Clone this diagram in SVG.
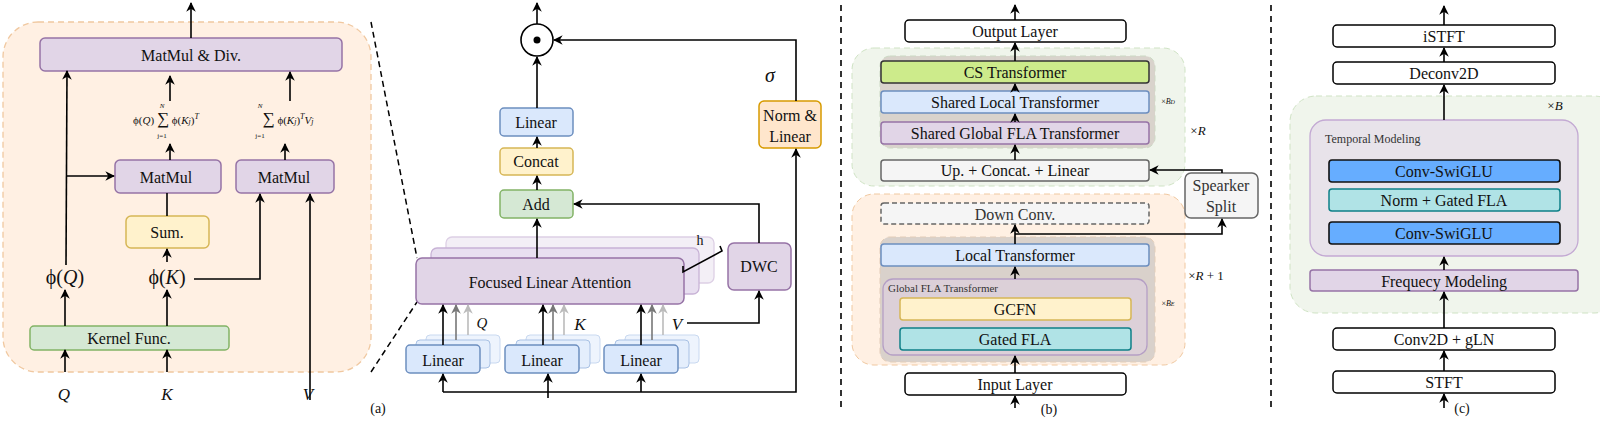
<svg xmlns="http://www.w3.org/2000/svg" width="1600" height="421" viewBox="0 0 1600 421">
<style>
text{font-family:"Liberation Serif","DejaVu Serif",serif;fill:#111;text-anchor:middle}
.t{font-size:16px}.s{font-size:13px}.m{font-style:italic}
.ln{stroke:#000;stroke-width:1.6;fill:none}
.pu{fill:#e1d5e7;stroke:#9673a6;stroke-width:1.5}
.bl{fill:#dae8fc;stroke:#6c8ebf;stroke-width:1.5}
.ye{fill:#fff2cc;stroke:#d6b656;stroke-width:1.5}
.gr{fill:#d5e8d4;stroke:#82b366;stroke-width:1.5}
.wh{fill:#fff;stroke:#000;stroke-width:1.5}
</style>
<defs><marker id="a" viewBox="0 0 10 10" refX="9" refY="5" markerWidth="6" markerHeight="6" orient="auto"><path d="M0,0L10,5L0,10L3,5z" fill="#000"/></marker>
<marker id="g1" viewBox="0 0 10 10" refX="9" refY="5" markerWidth="6" markerHeight="6" orient="auto"><path d="M0,0L10,5L0,10L3,5z" fill="#777"/></marker>
<marker id="g2" viewBox="0 0 10 10" refX="9" refY="5" markerWidth="6" markerHeight="6" orient="auto"><path d="M0,0L10,5L0,10L3,5z" fill="#bbb"/></marker></defs>

<!-- panel a -->
<rect x="3" y="22" width="368" height="350" rx="35" fill="#fff0e3" stroke="#f0c8a0" stroke-dasharray="6,4" stroke-width="1.3"/>
<g id="matdiv"><rect class="pu" x="40" y="38" width="302" height="33" rx="5"/><text class="t" x="191" y="61">MatMul &amp; Div.</text></g>
<g id="mm1"><rect class="pu" x="115" y="160" width="106" height="33" rx="5"/><text class="t" x="166" y="183">MatMul</text></g>
<g id="mm2"><rect class="pu" x="236" y="160" width="98" height="33" rx="5"/><text class="t" x="284" y="183">MatMul</text></g>
<g id="sum"><rect class="ye" x="126" y="216" width="83" height="32" rx="5"/><text class="t" x="167" y="238">Sum.</text></g>
<g id="kern"><rect class="gr" x="30" y="326" width="199" height="24" rx="4"/><text class="t" x="129" y="344">Kernel Func.</text></g>
<text x="65" y="284" style="font-size:20px">ϕ(<tspan font-style="italic">Q</tspan>)</text>
<text x="167" y="284" style="font-size:20px">ϕ(<tspan font-style="italic">K</tspan>)</text>
<text class="m" x="64" y="400" style="font-size:17px">Q</text>
<text class="m" x="167" y="400" style="font-size:17px">K</text>
<text class="m" x="308" y="400" style="font-size:17px">V</text>
<text x="166" y="124" style="font-size:11px">ϕ(<tspan font-style="italic">Q</tspan>) <tspan font-size="17">∑</tspan> ϕ(<tspan font-style="italic">K<tspan font-size="8">j</tspan></tspan>)<tspan font-size="8" dy="-5" font-style="italic">T</tspan></text>
<text x="162" y="108" style="font-size:7px" class="m">N</text><text x="162" y="138" style="font-size:7px">j=1</text>
<text x="288" y="124" style="font-size:11px"><tspan font-size="17">∑</tspan> ϕ(<tspan font-style="italic">K<tspan font-size="8">j</tspan></tspan>)<tspan font-size="8" dy="-5" font-style="italic">T</tspan><tspan dy="5" font-style="italic">V<tspan font-size="8">j</tspan></tspan></text>
<text x="260" y="108" style="font-size:7px" class="m">N</text><text x="260" y="138" style="font-size:7px">j=1</text>
<text x="378" y="413" style="font-size:14px">(a)</text>
<path d="M371,22L417,258M371,372L417,302" stroke="#000" stroke-width="1.5" stroke-dasharray="6,4" fill="none"/>

<!-- middle -->
<g id="fla"><rect x="446" y="237" width="268" height="46" rx="6" fill="#f3eff6" stroke="#ddd0e5" stroke-width="1.3"/><rect x="431" y="248" width="268" height="46" rx="6" fill="#e8dff0" stroke="#c8b3d6" stroke-width="1.3"/><rect class="pu" x="416" y="258" width="268" height="46" rx="6"/><text class="t" x="550" y="288">Focused Linear Attention</text></g>
<text x="700" y="245" style="font-size:14px">h</text>
<path d="M683,266L683,272L722,251L720,246" class="ln" stroke-width="1.2"/>
<g id="circ"><circle cx="537" cy="40" r="16" fill="#fff" stroke="#000" stroke-width="1.6"/><circle cx="537" cy="40" r="3.5" fill="#000"/></g>
<g id="lin"><rect class="bl" x="500" y="108" width="73" height="28" rx="4"/><text class="t" x="536" y="128">Linear</text></g>
<g id="concat"><rect class="ye" x="500" y="148" width="73" height="27" rx="4"/><text class="t" x="536" y="167">Concat</text></g>
<g id="add"><rect class="gr" x="500" y="190" width="73" height="28" rx="4"/><text class="t" x="536" y="210">Add</text></g>
<g id="dwc"><rect class="pu" x="728" y="243" width="63" height="47" rx="6"/><text class="t" x="759" y="272">DWC</text></g>
<g id="norm"><rect x="759" y="101" width="62" height="47" rx="5" fill="#ffe6cc" stroke="#d79b00" stroke-width="1.5"/><text class="t" x="790" y="121">Norm &amp;</text><text class="t" x="790" y="142">Linear</text></g>
<text class="m" x="770" y="82" style="font-size:20px">σ</text>
<g id="lq"><rect x="426" y="335" width="74" height="28" rx="4" fill="#eef4fd" stroke="#c9d9f0"/><rect x="416" y="340" width="74" height="28" rx="4" fill="#e4eefc" stroke="#a9c1e4"/><rect class="bl" x="406" y="345" width="74" height="28" rx="4"/><text class="t" x="443" y="366">Linear</text></g>
<g id="lk"><rect x="526" y="335" width="74" height="28" rx="4" fill="#eef4fd" stroke="#c9d9f0"/><rect x="516" y="340" width="74" height="28" rx="4" fill="#e4eefc" stroke="#a9c1e4"/><rect class="bl" x="505" y="345" width="74" height="28" rx="4"/><text class="t" x="542" y="366">Linear</text></g>
<g id="lv"><rect x="625" y="335" width="74" height="28" rx="4" fill="#eef4fd" stroke="#c9d9f0"/><rect x="615" y="340" width="74" height="28" rx="4" fill="#e4eefc" stroke="#a9c1e4"/><rect class="bl" x="604" y="345" width="74" height="28" rx="4"/><text class="t" x="641" y="366">Linear</text></g>
<text class="m" x="482" y="328" style="font-size:15px">Q</text>
<text class="m" x="580" y="330" style="font-size:17px">K</text>
<text class="m" x="677" y="330" style="font-size:17px">V</text>

<!-- panel b -->
<path d="M841,5V408M1271,5V408" stroke="#000" stroke-width="1.6" stroke-dasharray="6,5"/>
<rect x="852" y="48" width="333" height="138" rx="22" fill="#f0f5ec" stroke="#cfe3c4" stroke-dasharray="6,4"/>
<rect x="880" y="56" width="275" height="92" rx="10" fill="#d9d3cc" stroke="#ccd9c4" stroke-dasharray="6,4"/>
<rect x="852" y="194" width="333" height="171" rx="22" fill="#fff0e3" stroke="#f0c8a0" stroke-dasharray="6,4"/>
<rect x="880" y="237" width="275" height="125" rx="10" fill="#d9d1cb" stroke="#e3cdb8" stroke-dasharray="6,4"/>
<g id="out"><rect class="wh" x="905" y="20" width="221" height="22" rx="4"/><text class="t" x="1015" y="37">Output Layer</text></g>
<g id="cs"><rect x="881" y="61" width="268" height="22" rx="3" fill="#cdeb8b" stroke="#333" stroke-width="1.5"/><text class="t" x="1015" y="78">CS Transformer</text></g>
<g id="slt"><rect class="bl" x="881" y="91" width="268" height="22" rx="3"/><text class="t" x="1015" y="108">Shared Local Transformer</text></g>
<g id="sgt"><rect class="pu" x="881" y="122" width="268" height="22" rx="3"/><text class="t" x="1015" y="139">Shared Global FLA Transformer</text></g>
<g id="up"><rect x="881" y="160" width="268" height="21" rx="3" fill="#f5f5f5" stroke="#666" stroke-width="1.5"/><text class="t" x="1015" y="176" fill="#333">Up. + Concat. + Linear</text></g>
<g id="down"><rect x="881" y="203" width="268" height="21" rx="3" fill="#f5f5f5" stroke="#666" stroke-width="1.5" stroke-dasharray="5,3"/><text class="t" x="1015" y="220" style="fill:#333">Down Conv.</text></g>
<g id="spk"><rect x="1185" y="173" width="73" height="45" rx="6" fill="#f5f5f5" stroke="#666" stroke-width="1.5"/><text class="t" x="1221" y="191" style="fill:#333">Spearker</text><text class="t" x="1221" y="212" style="fill:#333">Split</text></g>
<g id="lt"><rect class="bl" x="881" y="244" width="268" height="22" rx="3"/><text class="t" x="1015" y="261">Local Transformer</text></g>
<g id="gft"><rect x="883" y="279" width="264" height="76" rx="10" fill="#dcd0d8" stroke="#b59fc5" stroke-width="1.3"/><text x="888" y="292" style="font-size:11px;text-anchor:start;fill:#333">Global FLA Transformer</text></g>
<g id="gcfn"><rect x="900" y="298" width="231" height="22" rx="3" fill="#fff2cc" stroke="#d6b656" stroke-width="1.5"/><text class="t" x="1015" y="315">GCFN</text></g>
<g id="gfla"><rect x="900" y="328" width="231" height="22" rx="3" fill="#b0e3e6" stroke="#0e8088" stroke-width="1.5"/><text class="t" x="1015" y="345">Gated FLA</text></g>
<g id="inp"><rect class="wh" x="905" y="373" width="221" height="22" rx="4"/><text class="t" x="1015" y="390">Input Layer</text></g>
<text x="1168" y="104" style="font-size:8px">×<tspan font-style="italic">B<tspan font-size="6">D</tspan></tspan></text>
<text x="1168" y="306" style="font-size:8px">×<tspan font-style="italic">B<tspan font-size="6">E</tspan></tspan></text>
<text x="1198" y="135" style="font-size:13px">×<tspan font-style="italic">R</tspan></text>
<text x="1206" y="280" style="font-size:13px">×<tspan font-style="italic">R</tspan> + 1</text>
<text x="1049" y="414" style="font-size:14px">(b)</text>

<!-- panel c -->
<rect x="1290" y="96" width="330" height="217" rx="26" fill="#f0f5ec" stroke="#cfe3c4" stroke-dasharray="6,4"/>
<g id="istft"><rect class="wh" x="1333" y="25" width="222" height="22" rx="4"/><text class="t" x="1444" y="42">iSTFT</text></g>
<g id="dec"><rect class="wh" x="1333" y="62" width="222" height="22" rx="4"/><text class="t" x="1444" y="79">Deconv2D</text></g>
<g id="tm"><rect x="1310" y="120" width="268" height="136" rx="16" fill="#e8e3ea" stroke="#c3a9d3" stroke-width="1.3"/><text x="1325" y="143" style="font-size:12px;text-anchor:start;fill:#333">Temporal Modeling</text></g>
<g id="sw1"><rect x="1329" y="160" width="231" height="22" rx="3" fill="#66adff" stroke="#111" stroke-width="1.6"/><text class="t" x="1444" y="177">Conv-SwiGLU</text></g>
<g id="ngf"><rect x="1329" y="189" width="231" height="22" rx="3" fill="#b0e3e6" stroke="#0e8088" stroke-width="1.5"/><text class="t" x="1444" y="206">Norm + Gated FLA</text></g>
<g id="sw2"><rect x="1329" y="222" width="231" height="22" rx="3" fill="#66adff" stroke="#111" stroke-width="1.6"/><text class="t" x="1444" y="239">Conv-SwiGLU</text></g>
<g id="fm"><rect class="pu" x="1310" y="270" width="268" height="21" rx="3"/><text class="t" x="1444" y="287">Frequecy Modeling</text></g>
<g id="c2d"><rect class="wh" x="1333" y="328" width="222" height="22" rx="4"/><text class="t" x="1444" y="345">Conv2D + gLN</text></g>
<g id="stft"><rect class="wh" x="1333" y="371" width="222" height="22" rx="4"/><text class="t" x="1444" y="388">STFT</text></g>
<text x="1555" y="110" style="font-size:13px">×<tspan font-style="italic">B</tspan></text>
<text x="1462" y="413" style="font-size:14px">(c)</text>

<g id="connectors" class="ln">
<path d="M191,38V3" marker-end="url(#a)"/>
<path d="M65,372V350" marker-end="url(#a)"/>
<path d="M167,372V350" marker-end="url(#a)"/>
<path d="M65,326V290" marker-end="url(#a)"/>
<path d="M167,326V290" marker-end="url(#a)"/>
<path d="M66,265L67,71" marker-end="url(#a)"/>
<path d="M66,176H114" marker-end="url(#a)"/>
<path d="M167,262V249" marker-end="url(#a)"/>
<path d="M167,216V193"/>
<path d="M194,279H260V194" marker-end="url(#a)"/>
<path d="M310,400V194" marker-end="url(#a)"/>
<path d="M170,160V144" marker-end="url(#a)"/>
<path d="M170,101V76" marker-end="url(#a)"/>
<path d="M285,160V144" marker-end="url(#a)"/>
<path d="M290,101V72" marker-end="url(#a)"/>
<path d="M537,24V3" marker-end="url(#a)"/>
<path d="M537,108V57" marker-end="url(#a)"/>
<path d="M537,148V137" marker-end="url(#a)"/>
<path d="M537,190V176" marker-end="url(#a)"/>
<path d="M537,258V219" marker-end="url(#a)"/>
<path d="M759,243V204H574" marker-end="url(#a)"/>
<path d="M687,323H759V291" marker-end="url(#a)"/>
<path d="M796,101V40H554" marker-end="url(#a)"/>
<path d="M443,392H796V149" marker-end="url(#a)"/>
<path d="M443,392V374" marker-end="url(#a)"/>
<path d="M641,392V374" marker-end="url(#a)"/>
<path d="M548,398V374" marker-end="url(#a)"/>
<path d="M443,345V305" marker-end="url(#a)"/>
<path d="M543,345V305" marker-end="url(#a)"/>
<path d="M641,345V305" marker-end="url(#a)"/>
<path d="M456,340V305" stroke="#777" marker-end="url(#g1)"/>
<path d="M468,335V305" stroke="#bbb" marker-end="url(#g2)"/>
<path d="M553,340V305" stroke="#777" marker-end="url(#g1)"/>
<path d="M564,335V305" stroke="#bbb" marker-end="url(#g2)"/>
<path d="M652,340V305" stroke="#777" marker-end="url(#g1)"/>
<path d="M663,335V305" stroke="#bbb" marker-end="url(#g2)"/>
<path d="M1015,20V5" marker-end="url(#a)"/>
<path d="M1015,61V43" marker-end="url(#a)"/>
<path d="M1015,91V84" marker-end="url(#a)"/>
<path d="M1015,122V114" marker-end="url(#a)"/>
<path d="M1015,160V145" marker-end="url(#a)"/>
<path d="M1015,244V225" marker-end="url(#a)"/>
<path d="M1015,234H1222V219" marker-end="url(#a)"/>
<path d="M1222,173V170H1150" marker-end="url(#a)"/>
<path d="M1015,279V267" marker-end="url(#a)"/>
<path d="M1015,373V356" marker-end="url(#a)"/>
<path d="M1015,408V396" marker-end="url(#a)"/>
<path d="M1444,25V6" marker-end="url(#a)"/>
<path d="M1444,62V48" marker-end="url(#a)"/>
<path d="M1444,120V85" marker-end="url(#a)"/>
<path d="M1444,270V257" marker-end="url(#a)"/>
<path d="M1444,328V292" marker-end="url(#a)"/>
<path d="M1444,371V351" marker-end="url(#a)"/>
<path d="M1444,408V394" marker-end="url(#a)"/>
</g>
</svg>
